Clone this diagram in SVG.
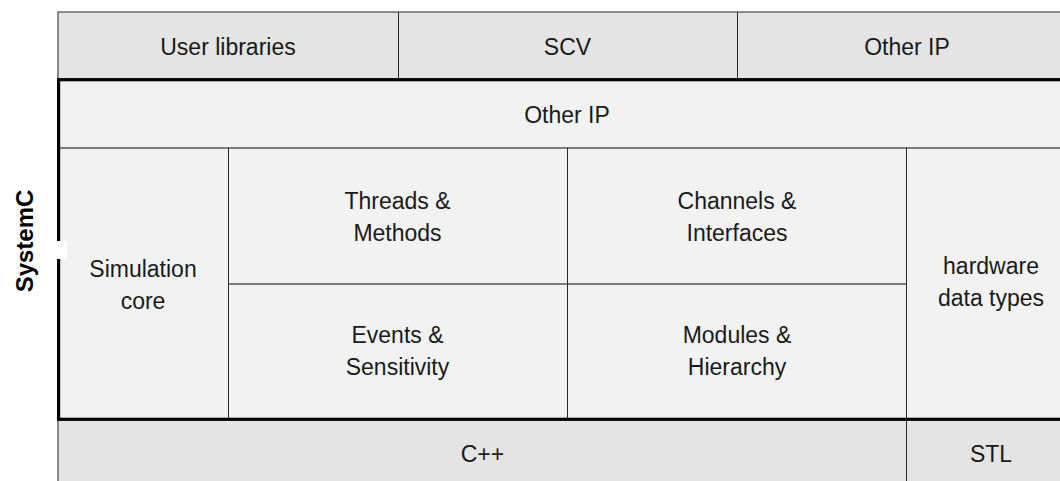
<svg xmlns="http://www.w3.org/2000/svg" width="1060" height="481" viewBox="0 0 1060 481">
  <style>
    .outer { fill: #e4e4e4; stroke: #555; stroke-width: 1.3; }
    .inner { fill: #f2f2f2; stroke: none; }
    .hl { stroke: #555; stroke-width: 1.3; fill: none; }
    .vl { stroke: #2a2a2a; stroke-width: 1; fill: none; }
    .frame { fill: none; stroke: #000; stroke-width: 3.2; }
    .lbl { font-family: "Liberation Sans", Arial, sans-serif; font-size: 23px; fill: #1a1a1a; text-anchor: middle; }
    .title { font-family: "Liberation Sans", Arial, sans-serif; font-size: 24px; font-weight: bold; fill: #000; text-anchor: middle; }
  </style>
  <rect width="1060" height="481" fill="#fff"/>

  <!-- top layer: libraries above SystemC -->
  <g id="top-row">
    <rect class="outer" x="58" y="12" width="1020" height="68"/>
    <line class="vl" x1="398.5" y1="12" x2="398.5" y2="80"/>
    <line class="vl" x1="737.5" y1="12" x2="737.5" y2="80"/>
  </g>
  <g id="user-libraries"><text class="lbl" x="228" y="55">User libraries</text></g>
  <g id="scv"><text class="lbl" x="567.5" y="55">SCV</text></g>
  <g id="other-ip-top"><text class="lbl" x="907" y="55">Other IP</text></g>

  <!-- bottom layer: language base -->
  <g id="bottom-row">
    <rect class="outer" x="58" y="419" width="1020" height="80"/>
    <line class="vl" x1="906.5" y1="419" x2="906.5" y2="481"/>
  </g>
  <g id="cpp"><text class="lbl" x="482.5" y="462">C++</text></g>
  <g id="stl"><text class="lbl" x="991" y="462">STL</text></g>

  <!-- SystemC core block -->
  <g id="systemc-body">
    <rect class="inner" x="58" y="80" width="1020" height="339"/>
    <line class="hl" x1="58" y1="148" x2="1078" y2="148"/>
    <line class="hl" x1="228" y1="284" x2="907" y2="284"/>
    <line class="vl" x1="228.5" y1="148" x2="228.5" y2="419"/>
    <line class="vl" x1="567.5" y1="148" x2="567.5" y2="419"/>
    <line class="vl" x1="906.5" y1="148" x2="906.5" y2="419"/>
  </g>
  <g id="other-ip"><text class="lbl" x="567" y="123">Other IP</text></g>
  <g id="simulation-core">
    <text class="lbl" x="143" y="277">Simulation</text>
    <text class="lbl" x="143" y="309">core</text>
  </g>
  <g id="threads-methods">
    <text class="lbl" x="397.5" y="209">Threads &amp;</text>
    <text class="lbl" x="397.5" y="241">Methods</text>
  </g>
  <g id="channels-interfaces">
    <text class="lbl" x="737" y="209">Channels &amp;</text>
    <text class="lbl" x="737" y="241">Interfaces</text>
  </g>
  <g id="events-sensitivity">
    <text class="lbl" x="397.5" y="343">Events &amp;</text>
    <text class="lbl" x="397.5" y="375">Sensitivity</text>
  </g>
  <g id="modules-hierarchy">
    <text class="lbl" x="737" y="343">Modules &amp;</text>
    <text class="lbl" x="737" y="375">Hierarchy</text>
  </g>
  <g id="hardware-data-types">
    <text class="lbl" x="991" y="274">hardware</text>
    <text class="lbl" x="991" y="306">data types</text>
  </g>

  <!-- heavy frame marking the SystemC scope, with its label -->
  <g id="systemc-frame">
    <rect class="frame" x="58.6" y="79.7" width="1030" height="339.6"/>
    <rect x="55" y="241" width="12" height="18" fill="#fff"/>
    <text class="title" transform="translate(33 241) rotate(-90)">SystemC</text>
  </g>
</svg>
